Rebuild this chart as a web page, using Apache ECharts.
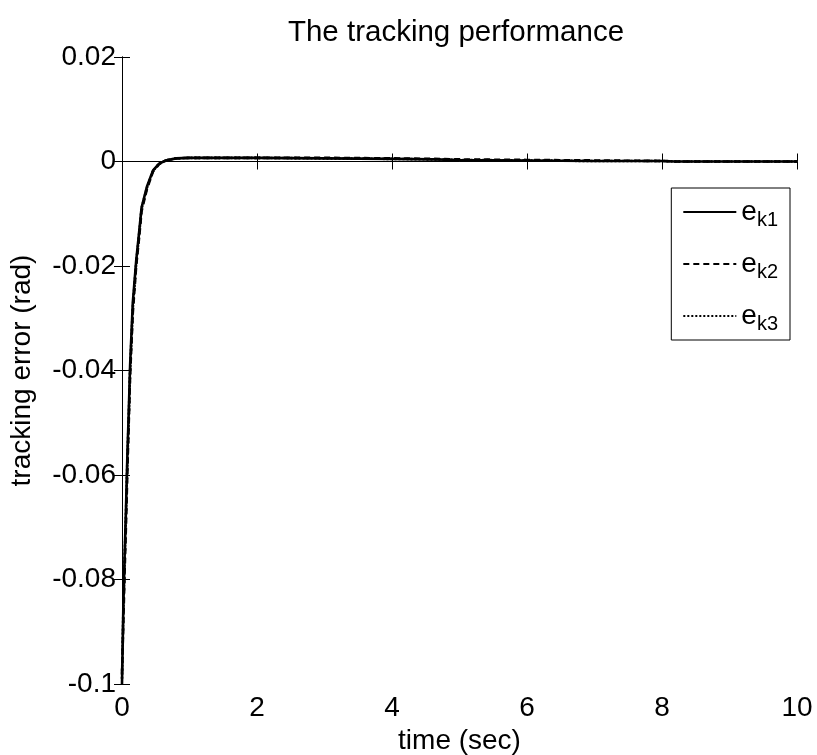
<!DOCTYPE html>
<html>
<head>
<meta charset="utf-8">
<script src="https://cdn.jsdelivr.net/npm/echarts@6/dist/echarts.min.js"></script>
<style>html,body{margin:0;padding:0;background:#fff}#c{width:817px;height:755px}</style>
</head>
<body>
<div id="c"></div>
<script>
const timeSec = [0, 0.02, 0.04, 0.06, 0.08, 0.1, 0.12, 0.16, 0.21, 0.25, 0.29, 0.37, 0.46, 0.55, 0.65, 0.8, 1.0, 2, 3, 4, 4.6, 5, 6, 7, 8, 8.2, 9, 10];
const ek1 = [-0.1, -0.085, -0.075, -0.066, -0.056, -0.048, -0.039, -0.027, -0.019, -0.014, -0.0088, -0.0048, -0.0017, -0.0004, 0.0002, 0.0006, 0.0007, 0.0007, 0.0006, 0.0005, 0.0004, 0.0003, 0.0002, 0.0001, 0.0001, 0.0, 0.0, 0.0];
const ek2 = [-0.098, -0.088, -0.078, -0.069, -0.059, -0.05, -0.041, -0.029, -0.02, -0.015, -0.0095, -0.0052, -0.0019, -0.0005, 0.0002, 0.0006, 0.0007, 0.0007, 0.0007, 0.0006, 0.0005, 0.0004, 0.0003, 0.0002, 0.0001, 0.0, 0.0, 0.0];
const ek3 = [-0.099, -0.086, -0.076, -0.067, -0.057, -0.049, -0.04, -0.028, -0.0195, -0.0145, -0.009, -0.005, -0.0018, -0.0004, 0.0002, 0.0006, 0.0007, 0.0007, 0.0006, 0.0005, 0.0004, 0.0003, 0.0002, 0.0001, 0.0001, 0.0, 0.0, 0.0];
const seriesNames = ['e_k1', 'e_k2', 'e_k3'];
const seriesSubs = ['k1', 'k2', 'k3'];
const xTicks = [0, 2, 4, 6, 8, 10];
const yTicks = [-0.1, -0.08, -0.06, -0.04, -0.02, 0, 0.02];

const FONT = '"Liberation Sans", Arial, Helvetica, sans-serif';
const chart = echarts.init(document.getElementById('c'));
const zip = a => timeSec.map((t, i) => [t, a[i]]);
const lineTypes = ['solid', [6, 4], [2, 2]];
const datas = [ek1, ek2, ek3];

const axisCommon = {
  axisLine: { show: true, lineStyle: { color: '#000', width: 1 } },
  axisTick: { show: true, inside: true, length: 8, lineStyle: { color: '#000' } },
  splitLine: { show: false }
};

chart.setOption({
  animation: false,
  backgroundColor: '#fff',
  title: {
    text: 'The tracking performance',
    left: 451, top: 13, textAlign: 'center',
    textStyle: { fontFamily: FONT, fontSize: 29.5, fontWeight: 'normal', color: '#000' }
  },
  grid: { left: 122, right: 20, top: 57, bottom: 71, containLabel: false, outerBoundsMode: 'none' },
  legend: {
    orient: 'vertical',
    right: 27, top: 188,
    backgroundColor: '#fff',
    borderColor: '#000', borderWidth: 1, borderRadius: 0,
    padding: [6, 12, 6, 11],
    itemWidth: 53, itemHeight: 2, itemGap: 16,
    itemStyle: { opacity: 0 },
    data: seriesNames,
    formatter: name => 'e{s|' + seriesSubs[seriesNames.indexOf(name)] + '}',
    textStyle: {
      fontFamily: FONT, fontSize: 28, color: '#000', lineHeight: 36,
      rich: { s: { fontFamily: FONT, fontSize: 20, color: '#000', padding: [16, 0, 0, 0] } }
    }
  },
  xAxis: [
    Object.assign({}, axisCommon, {
      type: 'value', min: 0, max: 10, interval: 2, position: 'bottom',
      name: 'time (sec)', nameLocation: 'middle', nameGap: 20,
      nameTextStyle: { fontFamily: FONT, fontSize: 28, color: '#000' },
      axisLabel: { fontFamily: FONT, fontSize: 28, color: '#000', margin: 10,
        formatter: v => xTicks.includes(v) ? String(v) : '' }
    }),
    Object.assign({}, axisCommon, {
      type: 'value', min: 0, max: 10, interval: 2, position: 'top',
      axisLabel: { show: false }
    })
  ],
  yAxis: [
    Object.assign({}, axisCommon, {
      type: 'value', min: -0.1, max: 0.02, interval: 0.02, position: 'left',
      name: 'tracking error (rad)', nameLocation: 'middle', nameGap: 86, nameRotate: 90,
      nameTextStyle: { fontFamily: FONT, fontSize: 28, color: '#000' },
      axisLabel: { fontFamily: FONT, fontSize: 28, color: '#000', margin: 6,
        formatter: v => String(+(+v).toFixed(2)) }
    }),
    Object.assign({}, axisCommon, {
      type: 'value', min: -0.1, max: 0.02, interval: 0.02, position: 'right',
      axisLabel: { show: false }
    })
  ],
  series: seriesNames.map((n, i) => ({
    name: n, type: 'line', xAxisIndex: 0, yAxisIndex: 0,
    data: zip(datas[i]), showSymbol: false, symbol: 'none',
    lineStyle: { color: '#000', width: 2.6, type: lineTypes[i] },
    itemStyle: { color: '#000' },
    z: 3 - i
  }))
});
</script>
</body>
</html>
